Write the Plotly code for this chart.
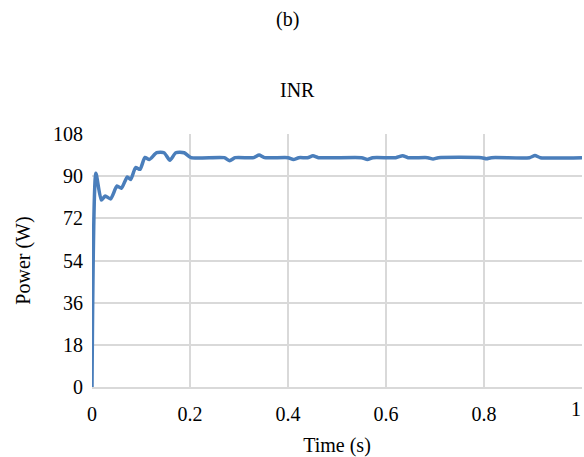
import plotly.graph_objects as go

time_s = [0, 0.008, 0.019, 0.027, 0.038, 0.051, 0.060, 0.072, 0.079, 0.089, 0.098,
          0.108, 0.117, 0.132, 0.147, 0.159, 0.171, 0.188, 0.202, 0.27, 0.281, 0.292,
          0.33, 0.341, 0.352, 0.40, 0.411, 0.422, 0.44, 0.451, 0.462, 0.55, 0.562,
          0.573, 0.62, 0.634, 0.645, 0.685, 0.696, 0.707, 0.795, 0.805, 0.815, 0.893,
          0.904, 0.915, 1.0]
power_w = [0, 91.2, 79.8, 81.5, 80.3, 85.8, 84.8, 89.7, 88.6, 93.7, 92.9,
           98.0, 97.1, 100.0, 100.0, 96.8, 100.0, 100.0, 97.9, 97.9, 96.6, 97.9,
           97.9, 99.0, 97.9, 97.9, 97.1, 97.9, 97.9, 98.7, 97.9, 97.9, 97.1,
           97.9, 97.9, 98.7, 97.9, 97.9, 97.3, 97.9, 97.9, 97.4, 97.9, 97.9,
           98.8, 97.9, 97.9]

x_ticks = [0, 0.2, 0.4, 0.6, 0.8, 1]
y_ticks = [0, 18, 36, 54, 72, 90, 108]

FF = "Liberation Serif"
grid = "#d9d9d9"
f20 = dict(family=FF, size=20, color="black")

fig = go.Figure()
fig.add_trace(go.Scatter(
    x=time_s, y=power_w, mode="lines",
    line=dict(color="#4a7ebb", width=3.5, shape="spline", smoothing=0.6),
    showlegend=False, cliponaxis=False,
))

# the last x tick label sits on the right paper edge, where plotly drops it
edge_tick = x_ticks[-1]

fig.update_layout(
    width=584, height=457,
    margin=dict(l=92, r=2, t=134, b=70),
    paper_bgcolor="white", plot_bgcolor="white",
    font=f20,
    xaxis=dict(range=[0, 1], tickvals=x_ticks, ticktext=[str(v) for v in x_ticks],
               tickfont=f20, automargin=False,
               showgrid=True, gridcolor=grid, gridwidth=1.5,
               zeroline=False, showline=True, linecolor=grid, linewidth=1.5,
               ticks="", ticklabelstandoff=8,
               title=dict(text="Time (s)", standoff=14, font=f20)),
    yaxis=dict(range=[0, 108], tickvals=y_ticks, tickfont=f20, automargin=False,
               showgrid=True, gridcolor=grid, gridwidth=1.5,
               zeroline=False, showline=False,
               ticks="", ticklabelstandoff=8,
               title=dict(text="Power (W)", standoff=17, font=f20)),
    annotations=[
        dict(text="(b)", xref="paper", yref="paper", x=(287 - 92) / 490, y=(387 - 20) / 253,
             xanchor="center", yanchor="middle", showarrow=False, font=f20),
        dict(text="INR", xref="paper", yref="paper", x=(297 - 92) / 490, y=(387 - 90) / 253,
             xanchor="center", yanchor="middle", showarrow=False, font=f20),
        dict(text=str(edge_tick), xref="x", yref="paper", x=edge_tick, y=0,
             xanchor="right", yanchor="top", xshift=1, yshift=-9, showarrow=False, font=f20),
    ],
)

fig.write_html("out.html", config={"displayModeBar": False},
               post_script="document.body.style.margin='0px';")
